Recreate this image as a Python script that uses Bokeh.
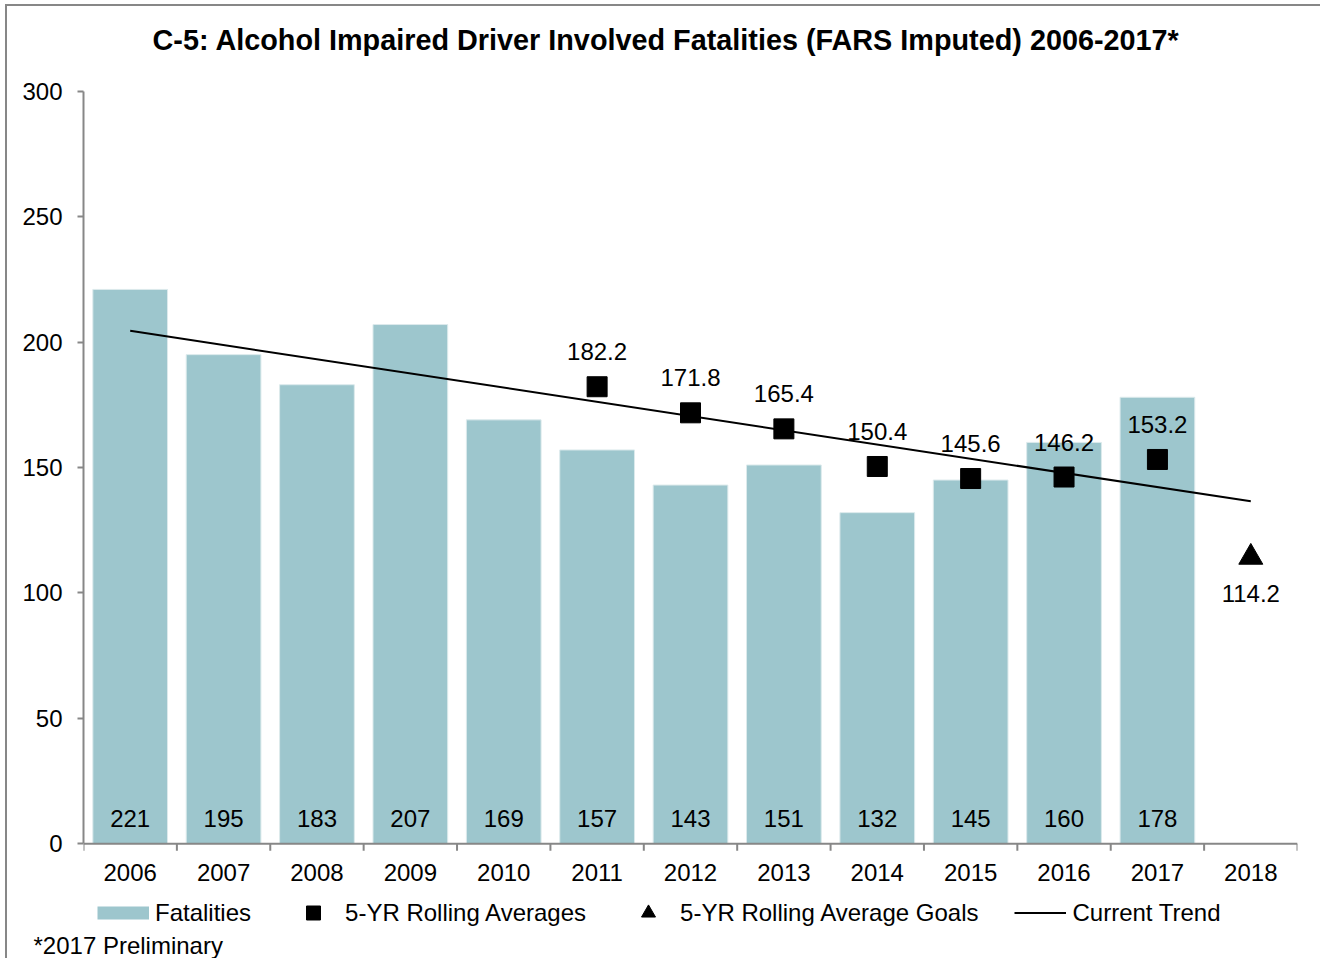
from bokeh.plotting import figure
from bokeh.models import (Range1d, FixedTicker, ColumnDataSource, LabelSet, Legend,
                          LegendItem, Title, Label)
from bokeh.core.properties import value
from bokeh.embed import file_html
from bokeh.resources import INLINE

# ---- data ----
years = ["2006", "2007", "2008", "2009", "2010", "2011", "2012", "2013",
         "2014", "2015", "2016", "2017", "2018"]
fatalities = [221, 195, 183, 207, 169, 157, 143, 151, 132, 145, 160, 178]
rolling_years = ["2011", "2012", "2013", "2014", "2015", "2016", "2017"]
rolling_avg = [182.2, 171.8, 165.4, 150.4, 145.6, 146.2, 153.2]
goal_years = ["2018"]
goal_vals = [114.2]
trend_years = ["2006", "2018"]
trend_vals = [204.5, 136.5]
y_ticks = [0, 50, 100, 150, 200, 250, 300]
title_text = "C-5: Alcohol Impaired Driver Involved Fatalities (FARS Imputed) 2006-2017*"
footnote = "*2017 Preliminary"

FONT = "Liberation Sans"
FS = "24px"
AXIS_GRAY = "#878787"
BAR_COLOR = "#9DC6CD"

W, H = 1320, 958
BOTTOM, LEFT, RIGHT = 27, 83, 23
TOP300_PX, ZERO_PX = 91, 845         # page y of values 300 and 0
PX = 300.0 / (ZERO_PX - TOP300_PX)   # data units per pixel
frame_bottom = H - BOTTOM
y_min = -(frame_bottom - ZERO_PX) * PX
y_max = 300.0 + TOP300_PX * PX

idx = {y: i for i, y in enumerate(years)}
n = len(years)

p = figure(width=W, height=H, output_backend="svg", toolbar_location=None,
           title=None,
           x_range=Range1d(-0.5, n - 0.5), y_range=Range1d(y_min, y_max),
           min_border_left=LEFT, min_border_right=RIGHT, min_border_top=0,
           min_border_bottom=BOTTOM)
p.outline_line_color = None
p.xgrid.visible = False
p.ygrid.visible = False
p.xaxis.visible = False
p.border_fill_color = None
p.background_fill_color = None
p.styles = {"background": "white",
            "box-shadow": "inset 5px 4px 0 0 white, inset 7px 6px 0 0 #878787"}

# title (inside the top of the frame, screen units from frame bottom-left)
p.add_layout(Label(x=152 - LEFT, y=frame_bottom - 41, x_units="screen", y_units="screen",
                   text=title_text, text_font=FONT, text_font_size="28.8px",
                   text_font_style="bold", text_baseline="middle", text_color="black"))

# bars
bar_src = ColumnDataSource(dict(x=list(range(len(fatalities))), top=fatalities,
                                lbl=[str(v) for v in fatalities],
                                zero=[0] * len(fatalities)))
bars = p.vbar(x="x", top="top", width=0.8, source=bar_src, fill_color=BAR_COLOR,
              line_color="#DCEAEC", line_width=1)
p.add_layout(LabelSet(x="x", y="zero", text="lbl", source=bar_src, y_offset=25,
                      text_align="center", text_baseline="middle",
                      text_font=value(FONT), text_font_size=FS, text_color="black"))

# manual category x-axis at value 0
p.segment(x0=[-0.5], y0=[0], x1=[n - 0.5], y1=[0], line_color=AXIS_GRAY, line_width=2)
bounds = [i - 0.5 for i in range(n + 1)]
p.segment(x0=bounds, y0=[0] * len(bounds), x1=bounds, y1=[-7 * PX] * len(bounds),
          line_color=AXIS_GRAY, line_width=2)
xl_src = ColumnDataSource(dict(x=list(range(n)), y=[0] * n, lbl=years))
p.add_layout(LabelSet(x="x", y="y", text="lbl", source=xl_src, y_offset=-29,
                      text_align="center", text_baseline="middle",
                      text_font=value(FONT), text_font_size=FS, text_color="black"))

# trend line
trend = p.line([idx[y] for y in trend_years], trend_vals, line_color="black", line_width=2)

# rolling averages
r_src = ColumnDataSource(dict(x=[idx[y] for y in rolling_years], y=rolling_avg,
                              lbl=[f"{v:.1f}" for v in rolling_avg]))
sq = p.scatter("x", "y", source=r_src, marker="square", size=20,
               fill_color="black", line_color="black")
p.add_layout(LabelSet(x="x", y="y", text="lbl", source=r_src, y_offset=35,
                      text_align="center", text_baseline="middle",
                      text_font=value(FONT), text_font_size=FS, text_color="black"))

# goal
g_src = ColumnDataSource(dict(x=[idx[y] for y in goal_years], y=goal_vals,
                              lbl=[f"{v:.1f}" for v in goal_vals]))
tri = p.scatter("x", "y", source=g_src, marker="triangle", size=24,
                fill_color="black", line_color="black")
p.add_layout(LabelSet(x="x", y="y", text="lbl", source=g_src, y_offset=-36,
                      text_align="center", text_baseline="middle",
                      text_font=value(FONT), text_font_size=FS, text_color="black"))

# y axis
yax = p.yaxis[0]
yax.ticker = FixedTicker(ticks=y_ticks)
yax.bounds = (0, 300)
yax.major_tick_out = 6
yax.major_tick_in = 0
yax.minor_tick_out = 0
yax.minor_tick_in = 0
yax.axis_line_color = AXIS_GRAY
yax.axis_line_width = 2
yax.major_tick_line_color = AXIS_GRAY
yax.major_tick_line_width = 2
yax.major_label_text_font = FONT
yax.major_label_text_font_size = FS
yax.major_label_text_color = "black"
yax.major_label_standoff = 15

# legend (swatch for bars drawn as a thick line proxy that draws nothing on the plot)
nan = float("nan")
swatch = p.line(x=[nan, nan], y=[nan, nan], line_color=BAR_COLOR, line_width=13)
legend = Legend(items=[
    LegendItem(label="Fatalities", renderers=[swatch]),
    LegendItem(label="5-YR Rolling Averages", renderers=[sq]),
    LegendItem(label="5-YR Rolling Average Goals", renderers=[tri]),
    LegendItem(label="Current Trend", renderers=[trend]),
], orientation="horizontal", location=(14, frame_bottom - 915 - 17), padding=0, margin=0,
    spacing=36, glyph_width=52, glyph_height=35, label_height=35,
    label_standoff=6, border_line_color=None, background_fill_alpha=0,
    label_text_font=FONT, label_text_font_size=FS, label_text_color="black")
p.add_layout(legend, "center")

p.add_layout(Title(text=footnote, align="left", offset=-50,
                   text_font=FONT, text_font_size=FS, text_font_style="normal",
                   text_color="black", standoff=0), "below")

open("out.html", "w").write(file_html(p, INLINE))
